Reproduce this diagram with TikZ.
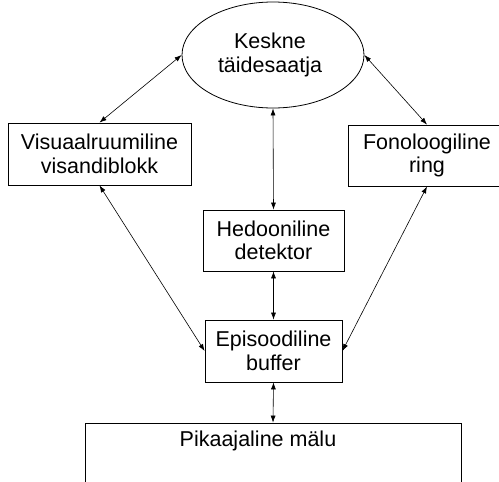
\documentclass[tikz,border=0pt]{standalone}
\usepackage{fontspec}
\setmainfont{Liberation Sans}
\usetikzlibrary{arrows.meta,shapes.geometric}
\begin{document}
\begin{tikzpicture}[x=1pt,y=-1pt,
  every node/.style={font=\fontsize{21.5}{23.5}\selectfont, align=center, inner sep=0pt},
  box/.style={draw, line width=0.8pt},
  link/.style={line width=0.6pt, {Latex[length=7pt,width=5pt]}-{Latex[length=7pt,width=5pt]}}]
\useasboundingbox (0,0) rectangle (499,482);
\clip (0,0) rectangle (499,482);
% central executive
\node[box, ellipse, minimum width=182, minimum height=106] (kesk) at (273,55) {};
\node (keskt) at (270,55) {Keskne\\täidesaatja};
% slave systems
\node[box, rectangle, minimum width=183, minimum height=62] (vis) at (99.5,154) {Visuaalruumiline\\visandiblokk};
\node[box, rectangle, minimum width=158, minimum height=61] (fono) at (427,155.5) {Fonoloogiline\\ring};
\node[box, rectangle, minimum width=141, minimum height=61] (hed) at (273.5,240.5) {Hedooniline\\detektor};
\node[box, rectangle, minimum width=137, minimum height=62] (epi) at (273.5,351) {Episoodiline\\buffer};
% long-term memory (runs past the lower edge)
\node[box, rectangle, minimum width=376, minimum height=120] (pik) at (273,483) {};
\node (pikt) at (258,441) {Pikaajaline mälu};
% connections
\draw[link] (vis.north) -- (kesk.west);
\draw[link] (fono.north) -- (kesk.east);
\draw[link] (kesk.south) -- (hed.north);
\draw[link] (vis.south) -- (epi.west);
\draw[link] (fono.south) -- (epi.east);
\draw[link] (hed.south) -- (epi.north);
\draw[link] (epi.south) -- (pik.north);
\end{tikzpicture}
\end{document}
